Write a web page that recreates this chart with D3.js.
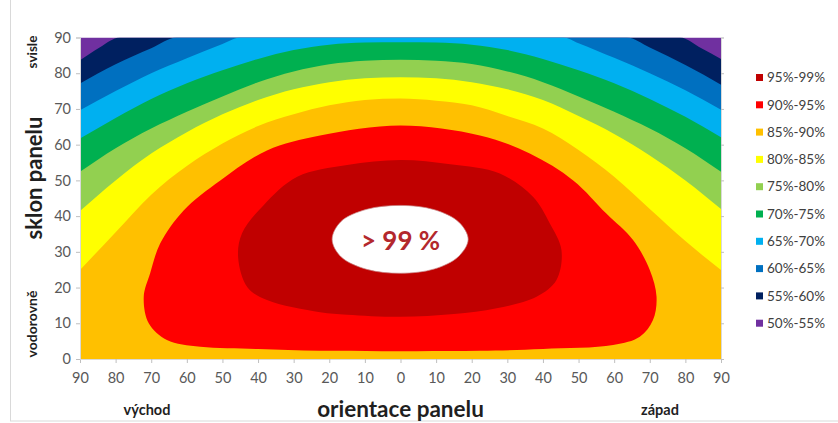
<!DOCTYPE html>
<html><head><meta charset="utf-8">
<script src="https://cdn.jsdelivr.net/npm/d3@7"></script>
<style>body{margin:0;background:#fff}svg{display:block}</style>
</head><body><svg id="c" width="838" height="423"></svg>
<script>
// ---- data (azimuth from south: negative = east, positive = west; tilt in degrees)
const bandLabels = ["95%-99%","90%-95%","85%-90%","80%-85%","75%-80%","70%-75%","65%-70%","60%-65%","55%-60%","50%-55%"];
const bandColors = ["#c00000","#ff0000","#ffc000","#ffff00","#92d050","#00b050","#00b0f0","#0070c0","#002060","#7030a0"];
const xTicks = [-90,-80,-70,-60,-50,-40,-30,-20,-10,0,10,20,30,40,50,60,70,80,90];
const xTickLabels = ["90","80","70","60","50","40","30","20","10","0","10","20","30","40","50","60","70","80","90"];
const yTicks = [0,10,20,30,40,50,60,70,80,90];

// outer iso-lines (left -> right)
const iso55 = [[-90,83.6],[-84.5,87.2],[-78.8,90],[78.5,90],[84.5,87],[90,84]];
const iso60 = [[-90,77.1],[-80,82.5],[-70,87],[-62.8,90],[63.5,90],[70,87.2],[80,82.3],[90,76.8]];
const iso65 = [[-90,69.6],[-80,75],[-70,80],[-60,84.2],[-50,88.2],[-45,90],[45.6,90],[50,88.4],[60,84.3],[70,80],[80,75.2],[90,69.8]];
const iso70 = [[-90,61.7],[-80,67.5],[-70,72.8],[-60,77.2],[-50,80.8],[-40,84],[-30,86.5],[-20,88],[-10,88.6],[0,88.7],[10,88.6],[20,88],[30,86.5],[40,84],[50,80.8],[60,77.2],[70,72.8],[80,67.8],[90,62.1]];
const iso75 = [[-90,52.4],[-80,59],[-70,64.5],[-60,69.2],[-50,73.5],[-40,77.5],[-30,80.5],[-20,82.5],[-10,83.5],[0,83.8],[10,83.5],[20,82.6],[30,80.5],[40,77.5],[50,73.5],[60,69.2],[70,64.5],[80,59],[90,52.4]];
const iso80 = [[-90,41.4],[-80,50],[-70,57.5],[-60,63.5],[-50,68.5],[-40,72.5],[-30,75.5],[-20,77.5],[-10,78.6],[0,78.9],[10,78.6],[20,77.5],[30,75.5],[40,72.5],[50,68],[60,63],[70,57],[80,50],[90,42]];
const iso85 = [[-90,24.9],[-80,35.5],[-70,46],[-60,54],[-50,60.3],[-40,65.2],[-30,68.5],[-20,71],[-10,72.5],[0,72.9],[10,72.3],[20,71],[30,68],[40,64.5],[50,58.5],[60,51],[70,42],[80,33],[90,24.9]];
// inner closed iso-lines
const iso90 = [[0,65.4],[22.3,62.6],[36.3,57.5],[48.5,50],[57.8,40.7],[65.3,33.3],[70,24.9],[71.9,17.4],[70.9,10.9],[67.2,6.2],[59.7,3.9],[40,2.8],[22.3,2.3],[0,2.2],[-22.6,2.3],[-40,2.8],[-56.2,3.4],[-65.6,5.3],[-70.7,10],[-72.1,17.4],[-70.3,24],[-67.5,32.3],[-60.9,41.6],[-50.6,50],[-37.5,58.4],[-22.6,62.6]];
const iso95 = [[0,55.7],[14,54.5],[27.9,51.9],[37.2,45.4],[41.9,38],[45.2,30.5],[43.8,22.1],[38.2,17.4],[27,14.2],[15,12.6],[0,11.8],[-15,12.4],[-22.6,13.1],[-37.5,16.5],[-43,20.1],[-45.6,28.5],[-44.5,35.2],[-38.5,43],[-29,51],[-15,54.3]];
const iso99 = [[19,33.5],[16.4,38.3],[9.5,41.8],[0,43],[-9.5,41.9],[-16.7,38.5],[-19.2,33.5],[-16.7,28.6],[-9.5,25.1],[0,24],[9.5,25.2],[16.3,28.7]];

// ---- drawing
const svg = d3.select('#c');
const W = 838, H = 423;
const x = d3.scaleLinear().domain([-90,90]).range([80,721]);
const y = d3.scaleLinear().domain([0,90]).range([359,37.5]);
const font = "Lato, 'Open Sans', sans-serif";

svg.append('rect').attr('x',10.5).attr('y',-2).attr('width',W).attr('height',H)
  .attr('fill','none').attr('stroke','#d9d9d9');

svg.append('defs').append('clipPath').attr('id','plotclip').append('rect')
  .attr('x',x(-90)).attr('y',y(90)).attr('width',x(90)-x(-90)).attr('height',y(0)-y(90));

const plot = svg.append('g').attr('clip-path','url(#plotclip)');
plot.append('rect').attr('x',x(-90)).attr('y',y(90)).attr('width',x(90)-x(-90)).attr('height',y(0)-y(90))
  .attr('fill',bandColors[9]);

const openLine = d3.line().x(d=>x(d[0])).y(d=>y(d[1])).curve(d3.curveMonotoneX);
const outer = [iso55,iso60,iso65,iso70,iso75,iso80,iso85];
outer.forEach((iso,i)=>{
  plot.append('path')
    .attr('d', openLine(iso) + `L${x(90)+2},${y(90)}L${x(90)+2},${y(0)+2}L${x(-90)-2},${y(0)+2}L${x(-90)-2},${y(iso[0][1])}Z`)
    .attr('fill', bandColors[8-i]);
});
const closedLine = d3.line().x(d=>x(d[0])).y(d=>y(d[1])).curve(d3.curveCatmullRomClosed.alpha(0.5));
plot.append('path').attr('d',closedLine(iso90)).attr('fill',bandColors[1]);
plot.append('path').attr('d',closedLine(iso95)).attr('fill',bandColors[0]);
plot.append('path').attr('d',closedLine(iso99)).attr('fill','#ffffff').attr('stroke','#c98a8a').attr('stroke-width',0.7);

svg.append('text').attr('x',x(0)).attr('y',250).attr('text-anchor','middle')
  .attr('font-family',font).attr('font-weight','bold').attr('font-size',26).attr('fill','#b3282d')
  .text('> 99 %');

// axes
const xAxis = d3.axisBottom(x).tickValues(xTicks).tickFormat((d,i)=>xTickLabels[i]).tickSize(4).tickPadding(10);
const gx = svg.append('g').attr('transform',`translate(0,${y(0)})`).call(xAxis);
const yAxis = d3.axisLeft(y).tickValues(yTicks).tickSize(4).tickPadding(5);
const gy = svg.append('g').attr('transform',`translate(${x(-90)},0)`).call(yAxis);
const yAxisR = d3.axisRight(y).tickValues(yTicks).tickSize(3).tickFormat('');
const gyr = svg.append('g').attr('transform',`translate(${x(90)},0)`).call(yAxisR);
[gx,gy,gyr].forEach(g=>{
  g.selectAll('.domain').attr('stroke','#d9d9d9');
  g.selectAll('.tick line').attr('stroke','#bfbfbf');
  g.selectAll('text').attr('font-family',font).attr('font-size',14.5).attr('fill','#595959');
});

// titles
svg.append('text').attr('x',x(0)).attr('y',417).attr('text-anchor','middle')
  .attr('font-family',font).attr('font-weight','bold').attr('font-size',22.5).attr('fill','#1f1f1f')
  .text('orientace panelu');
svg.append('text').attr('x',147).attr('y',415).attr('text-anchor','middle')
  .attr('font-family',font).attr('font-weight','bold').attr('font-size',14.5).attr('fill','#1f1f1f').text('východ');
svg.append('text').attr('x',660).attr('y',415).attr('text-anchor','middle')
  .attr('font-family',font).attr('font-weight','bold').attr('font-size',14.5).attr('fill','#1f1f1f').text('západ');
svg.append('text').attr('transform','translate(42,178) rotate(-90)').attr('text-anchor','middle')
  .attr('font-family',font).attr('font-weight','bold').attr('font-size',22).attr('fill','#1f1f1f').text('sklon panelu');
svg.append('text').attr('transform','translate(37,52) rotate(-90)').attr('text-anchor','middle')
  .attr('font-family',font).attr('font-weight','bold').attr('font-size',13.5).attr('fill','#1f1f1f').text('svisle');
svg.append('text').attr('transform','translate(37,324) rotate(-90)').attr('text-anchor','middle')
  .attr('font-family',font).attr('font-weight','bold').attr('font-size',14).attr('fill','#1f1f1f').text('vodorovně');

// legend
const leg = svg.append('g');
bandLabels.forEach((lab,i)=>{
  const yy = 77.5 + i*27.3;
  leg.append('rect').attr('x',756).attr('y',yy-3.5).attr('width',7).attr('height',7).attr('fill',bandColors[i]);
  leg.append('text').attr('x',767).attr('y',yy).attr('dy','0.35em')
    .attr('font-family',font).attr('font-size',13.5).attr('fill','#404040').text(lab);
});
</script></body></html>
